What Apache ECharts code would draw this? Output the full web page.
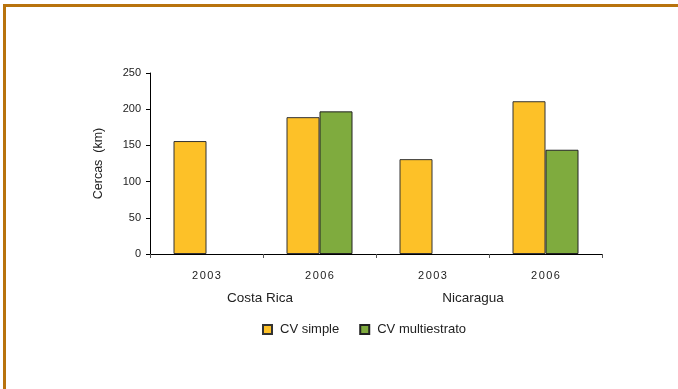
<!DOCTYPE html>
<html>
<head>
<meta charset="utf-8">
<script src="https://cdn.jsdelivr.net/npm/echarts@6/dist/echarts.min.js"></script>
<style>
  html, body { margin: 0; padding: 0; background: #fff; }
  #frame {
    position: absolute; left: 3px; top: 4px; width: 675px; height: 385px;
    border-top: 3px solid #b8730d; border-left: 3px solid #b8730d;
    box-sizing: border-box;
  }
  #chart { position: absolute; left: 0; top: 0; width: 678px; height: 389px; }
</style>
</head>
<body>
<div id="frame"></div>
<div id="chart"></div>
<script>
// Bars: years within each country
const years = ['2003', '2006', '2003', '2006'];
const countries = ['Costa Rica', 'Nicaragua'];
const cvSimple = [156, 189, 131, 211];
const cvMulti = [null, 197, null, 144];
const yTicks = [0, 50, 100, 150, 200, 250];

const FONT = 'Liberation Sans, Arial, Helvetica, sans-serif';

const chart = echarts.init(document.getElementById('chart'), null, { renderer: 'canvas' });

function spaced(s) {
  return s.split('').map(c => '{d|' + c + '}').join('');
}

chart.setOption({
  backgroundColor: 'transparent',
  animation: false,
  grid: { left: 150, right: 76, top: 73, bottom: 135, containLabel: false },
  legend: {
    left: 257, top: 318,
    itemWidth: 9, itemHeight: 9, itemGap: 20,
    icon: 'rect',
    textStyle: { fontFamily: FONT, fontSize: 13, color: '#222', padding: [0, 0, 0, 3] },
    data: ['CV simple', 'CV multiestrato']
  },
  xAxis: [
    {
      type: 'category',
      data: years,
      axisLine: { lineStyle: { color: '#000', width: 1 } },
      axisTick: { show: true, interval: 0, length: 4, lineStyle: { color: '#555' } },
      axisLabel: {
        interval: 0,
        margin: 16,
        formatter: v => spaced(v),
        rich: { d: { fontFamily: FONT, fontSize: 11, color: '#222', width: 7.6, align: 'center' } }
      }
    },
    {
      type: 'category',
      data: countries,
      position: 'bottom',
      gridIndex: 0,
      axisLine: { show: false },
      axisTick: { show: false },
      axisLabel: {
        interval: 0,
        margin: 37,
        formatter: v => v === 'Nicaragua' ? '{n|' + v + '}' : '{c|' + v + '}',
        rich: {
          c: { fontFamily: FONT, fontSize: 13.5, color: '#222', padding: [0, 6, 0, 0] },
          n: { fontFamily: FONT, fontSize: 13.5, color: '#222', padding: [0, 32, 0, 0] }
        }
      }
    }
  ],
  yAxis: {
    type: 'value',
    min: 0, max: 250, interval: 50,
    name: 'Cercas  (km)',
    nameLocation: 'middle',
    nameGap: 45,
    nameRotate: 90,
    nameTextStyle: { fontFamily: FONT, fontSize: 12.5, color: '#222' },
    axisLine: { show: true, lineStyle: { color: '#000', width: 1 } },
    axisTick: { show: true, length: 4, lineStyle: { color: '#000' } },
    splitLine: { show: false },
    axisLabel: { margin: 9, fontFamily: FONT, fontSize: 11, color: '#222' }
  },
  series: [
    {
      name: 'CV simple', type: 'bar', xAxisIndex: 0,
      data: cvSimple, barWidth: 33, barGap: '0%',
      itemStyle: { color: '#fdc128', borderColor: '#333', borderWidth: 1 }
    },
    {
      name: 'CV multiestrato', type: 'bar', xAxisIndex: 0,
      data: cvMulti, barWidth: 33, barGap: '0%',
      itemStyle: { color: '#7fab3e', borderColor: '#222', borderWidth: 1 }
    }
  ]
});
</script>
</body>
</html>
